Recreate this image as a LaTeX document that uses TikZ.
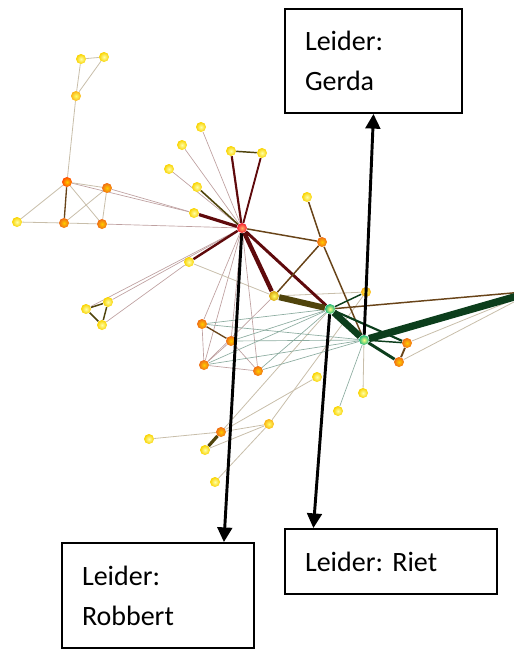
\documentclass[tikz,border=0pt]{standalone}
\usepackage{fontspec}
\setmainfont{Carlito}
\usetikzlibrary{arrows.meta, calc}

\definecolor{lnkred}{RGB}{95,10,12}
\definecolor{lnkolive}{RGB}{80,68,12}
\definecolor{lnkbrown}{RGB}{105,68,25}
\definecolor{lnkgreen}{RGB}{12,62,28}
\definecolor{thinpink}{RGB}{190,160,160}
\definecolor{thingreen}{RGB}{140,172,160}
\definecolor{thinbeige}{RGB}{200,190,170}
\definecolor{ballyel}{RGB}{248,226,0}
\definecolor{ballyor}{RGB}{250,180,20}
\definecolor{ballora}{RGB}{240,110,20}
\definecolor{ballred}{RGB}{245,30,50}
\definecolor{ballgrn}{RGB}{30,185,120}

\pgfdeclarelayer{edges}
\pgfsetlayers{edges,main}

\tikzset{
    ball/.style={circle, minimum size=7.5pt, inner sep=0pt, shading=radial},
    yel/.style={ball, inner color=yellow!35!white, outer color=ballyel!85!orange},
    yor/.style={ball, inner color=yellow!60!white, outer color=ballyor},
    ora/.style={ball, inner color=orange!40!yellow, outer color=ballora},
    hubred/.style={ball, inner color=orange!60!white, outer color=ballred},
    grn/.style={ball, inner color=yellow!50!white, outer color=ballgrn},
    thinP/.style={draw=thinpink, line width=0.5pt},
    thinG/.style={draw=thingreen, line width=0.5pt},
    thinB/.style={draw=thinbeige, line width=0.6pt},
    leiderbox/.style={draw, line width=1.4pt, align=left, inner xsep=15pt,
        font=\fontsize{21}{30}\selectfont\frenchspacing},
    pointer/.style={line width=2.2pt, -{Triangle[width=11pt, length=11pt]}}
}

\begin{document}
\begin{tikzpicture}[x=0.75pt, y=-0.75pt]

    \useasboundingbox (0,0) rectangle (514,651);
    \clip (0,0) rectangle (514,651);

    % Top left group
    \node[yel] (a1) at (81,59) {};
    \node[yel] (a2) at (104,57) {};
    \node[yor] (a3) at (76,96) {};

    % Left group
    \node[ball, inner color=orange!40!yellow, outer color=orange!60!red] (b1) at (67,182) {};
    \node[ora] (b2) at (107,188) {};
    \node[yel] (b3) at (17,222) {};
    \node[ora] (b4) at (64,223) {};
    \node[ora] (b5) at (102,224) {};

    % Hub Robbert
    \node[hubred] (h) at (242,228) {};
    \node[yel] (y1) at (201,127) {};
    \node[yel] (y2) at (182,145) {};
    \node[yel] (y3) at (169,169) {};
    \node[yel] (y4) at (197,187) {};
    \node[yel] (y5) at (194,213) {};
    \node[yel] (y6) at (231,151) {};
    \node[yel] (y7) at (262,153) {};
    \node[yel] (y8) at (189,262) {};
    \node[yel] (y9) at (307,197) {};

    % Triangle
    \node[yel] (t1) at (86,309) {};
    \node[yel] (t2) at (108,302) {};
    \node[yel] (t3) at (102,325) {};

    % Middle
    \node[ora] (o1) at (322,242) {};
    \node[ball, inner color=yellow!60!white, outer color=ballyor!75!olive] (oy) at (274,296) {};
    \node[yor] (o2) at (366,292) {};
    \node[grn] (g1) at (330,309) {};
    \node[grn] (g2) at (364,340) {};
    \node[ora] (o3) at (407,343) {};
    \node[ora] (o4) at (399,362) {};
    \coordinate (ext) at (535,291);

    % Lower cluster
    \node[ora] (c1) at (202,324) {};
    \node[ora] (c2) at (231,341) {};
    \node[ora] (c3) at (204,365) {};
    \node[ora] (c4) at (258,371) {};
    \node[yel] (yb) at (317,377) {};
    \node[yel] (yc) at (363,393) {};
    \node[yel] (yd) at (338,411) {};

    % Bottom group
    \node[ora] (d1) at (221,432) {};
    \node[yor] (e1) at (269,424) {};
    \node[yel] (e2) at (149,439) {};
    \node[yel] (e3) at (205,450) {};
    \node[yel] (e4) at (215,482) {};

    \begin{pgfonlayer}{edges}
    % thin links
    \foreach \a/\b in {h/y1, h/y2, h/y3, h/b5, h/t1, h/t2, h/c1, h/c2, h/c3, h/c4,
                       b1/y5, b2/y5, t3/y8, oy/c3, c1/c3, c2/c4, c3/c4, c2/c3}
        \draw[thinP] (\a) -- (\b);
    \foreach \a/\b in {a1/a2, a1/a3, a2/a3, a3/b1, b1/b3, b1/b5, b1/b2, b2/b4,
                       b2/b5, b3/b4, b4/b5, y8/oy, oy/o2, o3/ext, o4/ext, o2/e1,
                       d1/g1, d1/yb, d1/e1, d1/e2, e3/e1, e4/e1, g2/yc}
        \draw[thinB] (\a) -- (\b);
    \foreach \a/\b in {g1/c1, g1/c2, g1/c3, g1/c4, g2/c1, g2/c2, g2/c3, g2/c4, g2/yd}
        \draw[thinG] (\a) -- (\b);

    % strong links
    \draw[lnkbrown, line width=1pt] (b1) -- (b4);
    \draw[lnkbrown, line width=1pt] (c1) -- (c2);
    \draw[lnkolive, line width=1.1pt] (t1) -- (t2) -- (t3) -- (t1);
    \draw[lnkolive, line width=1.2pt] (h) -- (y4);
    \draw[lnkolive, line width=1.1pt] (y6) -- (y7);
    \draw[lnkred, line width=2.4pt] (h) -- (y5);
    \draw[lnkred, line width=1.6pt] (h) -- (y6);
    \draw[lnkred, line width=1.4pt] (h) -- (y7);
    \draw[lnkred, line width=1.8pt] (h) -- (y8);
    \draw[lnkred, line width=3.2pt] (h) -- (oy);
    \draw[lnkred, line width=2.2pt] (h) -- (g1);
    \draw[lnkbrown, line width=1.1pt] (h) -- (o1);
    \draw[lnkbrown, line width=1.1pt] (y9) -- (o1);
    \draw[lnkbrown, line width=1.1pt] (o1) -- (oy);
    \draw[lnkbrown, line width=1.1pt] (o1) -- (g2);
    \draw[lnkbrown, line width=1.1pt] (g1) -- (ext);
    \draw[lnkbrown, line width=1.4pt] (o3) -- (o4);
    \draw[lnkolive, line width=4.5pt] (oy) -- (g1);
    \draw[lnkgreen, line width=5pt] (g1) -- (g2);
    \draw[lnkgreen, line width=5.5pt] (g2) -- (ext);
    \draw[lnkgreen, line width=1.1pt] (g1) -- (o2);
    \draw[lnkgreen, line width=1.6pt] (g1) -- (o3);
    \draw[lnkgreen, line width=1.1pt] (g2) -- (o3);
    \draw[lnkgreen, line width=2.2pt] (g2) -- (o4);
    \draw[lnkolive, line width=2.4pt] (d1) -- (e3);
    \end{pgfonlayer}

    % Leaders
    \node[leiderbox, text width=102.75pt, minimum height=78pt] (gerda) at (373.5,61) {Leider:\\Gerda};
    \node[leiderbox, text width=114pt, minimum height=78.75pt] (robbert) at (158,595.5) {Leider:\\Robbert};
    \node[leiderbox, text width=129pt, minimum height=48.75pt] (riet) at (391,561.5) {Leider: Riet};

    \draw[pointer] (g2) -- (gerda.south);
    \draw[pointer] (h) -- ($(robbert.north west)!0.84!(robbert.north east)$);
    \draw[pointer] (g1) -- ($(riet.north west)!0.137!(riet.north east)$);

\end{tikzpicture}
\end{document}
